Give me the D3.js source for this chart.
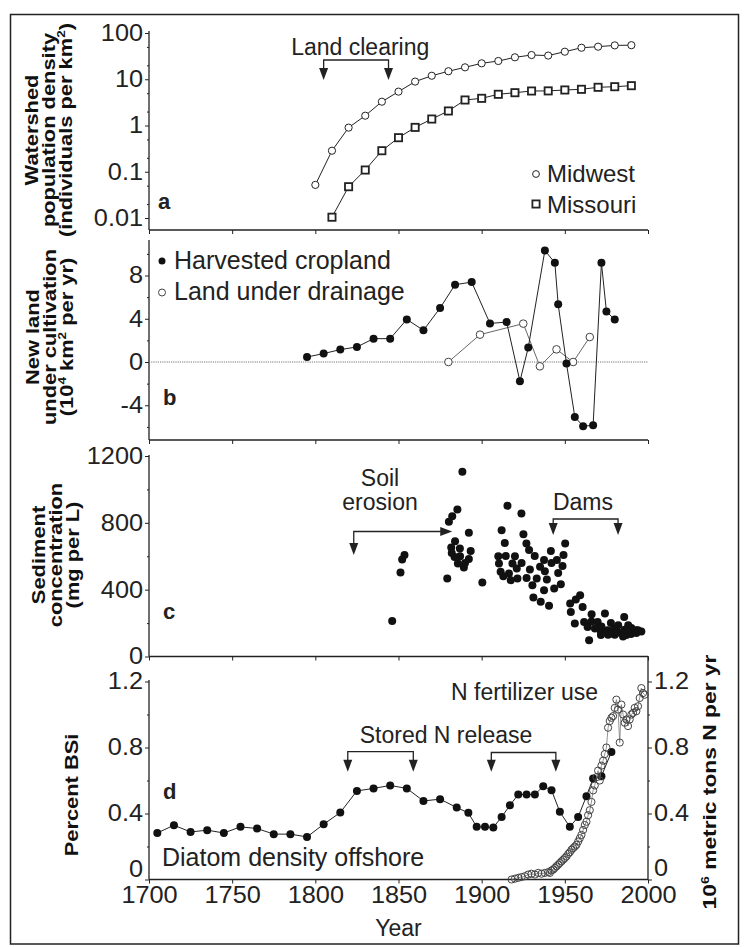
<!DOCTYPE html>
<html><head><meta charset="utf-8">
<script src="https://cdn.jsdelivr.net/npm/d3@7"></script>
<style>
html,body{margin:0;padding:0;background:#fff;}
svg text{font-family:"Liberation Sans",Arial,sans-serif;fill:#222;}
</style></head>
<body>
<svg id="chart" width="745" height="947"></svg>
<script>
// ---------------- DATA ----------------
const xTicks = [1700,1750,1800,1850,1900,1950,2000];

// panel a
const aTicks = [0.01,0.1,1,10,100];
const aTickLabels = ["0.01","0.1","1","10","100"];
const midwestYears = [1800,1810,1820,1830,1840,1850,1860,1870,1880,1890,1900,1910,1920,1930,1940,1950,1960,1970,1980,1990];
const midwestVals  = [0.052,0.285,0.9,1.63,3.27,5.4,8.9,11.9,14.9,18.1,22.1,24.8,29.8,33.4,32.5,39.4,48,50.6,54,54.5];
const missouriYears = [1810,1820,1830,1840,1850,1860,1870,1880,1890,1900,1910,1920,1930,1940,1950,1960,1970,1980,1990];
const missouriVals  = [0.0104,0.0475,0.109,0.285,0.545,0.91,1.38,2.06,3.56,3.87,4.73,5.12,5.57,5.6,5.86,6.06,6.7,6.9,7.26];

// panel b
const bTicks = [-4,0,4,8];
const bMinor = [-6,-2,2,6,10];
const cropYears = [1795,1805,1815,1825,1835,1845,1855,1865,1875,1884,1894,1905,1915,1923,1928,1938,1944,1946,1951,1956,1961,1967,1972,1975,1980];
const cropVals  = [0.46,0.78,1.15,1.39,2.16,2.16,3.94,2.93,4.99,7.15,7.39,3.57,3.69,-1.78,1.33,10.31,9.18,5.33,-0.15,-5.08,-5.94,-5.85,9.18,4.68,3.92];
const drainYears = [1880,1899,1925,1935,1945,1955,1965];
const drainVals  = [0,2.53,3.55,-0.4,1.17,0,2.31];

// panel c
const cTicks = [0,400,800,1200];
const cMinor = [200,600,1000];
const sedYears = [1846.2,1851.2,1852.2,1853.6,1888.4,1885.4,1882.3,1880.3,1892.3,1881.7,1886.9,1893.4,1883.7,1892.3,1885.7,1889.3,1879.3,1900.4,
  1915.5,1923.9,1912,1925.1,1913.9,1926.9,1928.5,1914.5,1931.9,1910.4,1918.5,1921.1,1911.4,1916.4,1921.5,1917.5,
  1941.6,1950.2,1949.2,1937.5,1945.2,1948.6,1935.1,1933.1,1939.2,1930.5,1947.6,1943.6,1937.5,1931.1,1935.5,1940.5,
  1959.2,1956.6,1953.2,1960.7,1953.6,1966.1,1974.1,1956,1961.6,1969.7,1977.7,1985.7,1963.7,1968.1,1971.7,1975.7,1979.7,
  1982.1,1988.1,1992.8,1983.7,1977.7,1964.6,1971.7,1989.8,1987,1994,1985,1980,1991,
  1882,1887,1884,1890,1910,1913,1920,1924,1927,1929,1938,1942,1946,1966,1972,1976,1981,1986,1990,1993,1996];
const sedVals = [213,503,581,607,1105,880,840,806,740,653,647,632,596,583,557,533,467,443,
  902,856,756,732,680,677,637,601,601,557,557,527,507,497,467,457,
  632,677,607,577,577,541,537,467,461,427,433,407,397,353,327,303,
  367,341,317,297,267,253,257,198,207,207,201,237,177,168,147,157,168,
  187,187,157,141,138,98,128,134,128,157,120,130,150,
  620,600,690,560,600,480,600,560,470,520,510,560,500,210,180,130,150,160,170,140,150];

// panel d
const dTicks = [0,0.4,0.8,1.2];
const dTickLabels = ["0","0.4","0.8","1.2"];
const dMinor = [0.2,0.6,1.0];
const bsiYears = [1705,1715,1725,1735,1745,1755,1765,1775,1785,1795,1805,1815,1825,1835,1845,1855,1865,1875,1885,1892,1897,1902,1907,1912,1917,1922,1927,1932,1937,1942,1947,1953,1958,1963,1967,1972,1978];
const bsiVals  = [0.282,0.329,0.288,0.299,0.282,0.319,0.309,0.275,0.275,0.258,0.335,0.406,0.537,0.552,0.570,0.552,0.476,0.487,0.436,0.404,0.319,0.319,0.315,0.379,0.450,0.515,0.515,0.515,0.565,0.541,0.410,0.319,0.379,0.505,0.612,0.626,0.773];
const fertYears = [1918,1920,1922,1924,1926,1928,1930,1932,1934,1936,1938,1940,1941,1942,1943,1944,1945,1946,1947,1948,1949,1950,1951,1952,1953,1954,1955,1956,1957,1958,1959,1960,1961,1962,1963,1964,1965,1966,1967,1968,1969,1970,1971,1972,1973,1974,1975,1976,1977,1978,1979,1980,1981,1982,1983,1984,1985,1986,1987,1988,1989,1990,1991,1992,1993,1994,1995,1996,1997,1998];
const fertVals  = [0.0,0.005,0.01,0.015,0.02,0.03,0.035,0.03,0.04,0.035,0.04,0.045,0.04,0.055,0.06,0.07,0.08,0.09,0.1,0.11,0.12,0.13,0.14,0.155,0.165,0.18,0.19,0.2,0.21,0.23,0.25,0.27,0.3,0.33,0.35,0.39,0.42,0.47,0.54,0.57,0.62,0.66,0.6,0.69,0.72,0.76,0.8,0.92,0.96,0.98,0.99,1.04,1.09,1.03,0.83,1.06,1.0,0.95,0.97,0.93,0.97,1.0,1.01,1.04,1.02,1.05,1.1,1.16,1.13,1.12];

// ---------------- DRAW ----------------
const svg = d3.select("#chart");
const FONT = '"Liberation Sans", Arial, sans-serif';
const INK = "#222";
const TICKFS = 23, TICKSX = 1.1;

svg.append("rect").attr("x",10.5).attr("y",14.5).attr("width",728).attr("height",929.5)
  .attr("fill","none").attr("stroke",INK).attr("stroke-width",1.5);

const x = d3.scaleLinear().domain([1700,2000]).range([149,648]);
const X0 = x(1700), X1 = x(2000);

function styleAxis(g){
  g.attr("font-family",FONT).attr("font-size",TICKFS);
  g.selectAll("line").attr("stroke",INK);
  g.selectAll("text").attr("fill",INK);
  g.select(".domain").remove();
}
function xAxis(yPos, labels){
  const g = svg.append("g").attr("transform",`translate(0,${yPos})`)
    .call(d3.axisBottom(x).tickValues(xTicks).tickSize(4).tickPadding(3)
      .tickFormat(labels ? d3.format("d") : ""));
  styleAxis(g);
  g.selectAll("text").attr("transform",`scale(${TICKSX},1)`);
  svg.append("line").attr("x1",X0).attr("x2",X1).attr("y1",yPos).attr("y2",yPos)
    .attr("stroke",INK).attr("stroke-width",1.3);
}
function yAxis(scale, ticks, labels, minor, top, bottom, xPos, right, zeroLift){
  const ax = (right ? d3.axisRight(scale) : d3.axisLeft(scale)).tickValues(ticks)
    .tickFormat((d,i)=>labels[i]).tickSize(4).tickPadding(2);
  const g = svg.append("g").attr("transform",`translate(${xPos},0)`).call(ax);
  styleAxis(g);
  g.selectAll("text").each(function(d){
    const t = d3.select(this);
    t.attr("x", (right ? 6 : -6)/TICKSX).attr("transform",`scale(${TICKSX},1)`);
    if (zeroLift && d === 0) t.attr("y",-zeroLift);
  });
  if (minor){
    const gm = svg.append("g").attr("transform",`translate(${xPos},0)`)
      .call((right ? d3.axisRight(scale) : d3.axisLeft(scale)).tickValues(minor).tickSize(2).tickFormat(""));
    styleAxis(gm);
  }
  svg.append("line").attr("x1",xPos).attr("x2",xPos).attr("y1",top).attr("y2",bottom)
    .attr("stroke",INK).attr("stroke-width",1.3);
}
function rotTitle(lines, baselines, cy, size, along){
  lines.forEach((ln,i)=>{
    const t = svg.append("text")
      .attr("transform",`translate(${baselines[i]},${cy}) rotate(-90) scale(${along},1)`)
      .attr("text-anchor","middle").attr("font-weight","bold").attr("font-size",size)
      .style("fill","#111");
    ln.forEach(part=>{
      const ts = t.append("tspan").text(part.t);
      if (part.sup) ts.attr("font-size",size*0.62).attr("dy",-size*0.38);
      if (part.after) ts.attr("dy",size*0.38);
    });
  });
}
function label(txt, xx, yy, opts={}){
  const sx = opts.sx || 1;
  return svg.append("text").attr("transform",`translate(${xx},${yy}) scale(${sx},1)`).text(txt)
    .attr("font-size",opts.size||23).attr("text-anchor",opts.anchor||"start")
    .attr("font-weight",opts.weight||"normal");
}
function downArrow(xx, tip){
  svg.append("path").attr("d",`M${xx-4.5},${tip-12}L${xx+4.5},${tip-12}L${xx},${tip}Z`).attr("fill",INK);
}
function bracket(y1, y2, bar, tip){
  const a = x(y1), b = x(y2);
  svg.append("path").attr("d",`M${a},${tip-11}V${bar}H${b}V${tip-11}`)
    .attr("fill","none").attr("stroke",INK).attr("stroke-width",1.3);
  downArrow(a, tip); downArrow(b, tip);
}
const lineGen = (xs, ys, sy) => d3.line().x((d,i)=>x(xs[i])).y((d,i)=>sy(ys[i]))(xs);

// ===== Panel a =====
const ya = d3.scaleLog().domain([0.01,100]).range([218,33]);
const aMinor = [];
[0.01,0.1,1,10].forEach(dec=>[2,5].forEach(m=>aMinor.push(dec*m)));
xAxis(230,false);
yAxis(ya, aTicks, aTickLabels, aMinor, 31, 230, X0, false);
rotTitle([[{t:"Watershed"}],[{t:"population density"}],[{t:"(individuals per km"},{t:"2",sup:true},{t:")",after:true}]],
  [38,55,72], 130, 19, 1.15);
label("a", 158, 209, {weight:"bold", size:22});
label("Land clearing", x(1827), 55, {anchor:"middle"});
bracket(1805, 1844, 60, 80);

svg.append("path").attr("d",lineGen(midwestYears,midwestVals,ya)).attr("fill","none").attr("stroke",INK).attr("stroke-width",1);
svg.append("path").attr("d",lineGen(missouriYears,missouriVals,ya)).attr("fill","none").attr("stroke",INK).attr("stroke-width",1);
svg.selectAll(".mw").data(midwestYears).join("circle")
  .attr("cx",d=>x(d)).attr("cy",(d,i)=>ya(midwestVals[i])).attr("r",3.6)
  .attr("fill","#fff").attr("stroke",INK).attr("stroke-width",1);
svg.selectAll(".mo").data(missouriYears).join("rect")
  .attr("x",d=>x(d)-3.6).attr("y",(d,i)=>ya(missouriVals[i])-3.6).attr("width",7.2).attr("height",7.2)
  .attr("fill","#fff").attr("stroke",INK).attr("stroke-width",1.8);
svg.append("circle").attr("cx",536).attr("cy",174).attr("r",3.4).attr("fill","#fff").attr("stroke",INK).attr("stroke-width",1);
label("Midwest", 547, 182, {size:24});
svg.append("rect").attr("x",532.4).attr("y",200.4).attr("width",7.2).attr("height",7.2).attr("fill","#fff").attr("stroke",INK).attr("stroke-width",1.8);
label("Missouri", 547, 213, {size:24});

// ===== Panel b =====
const yb = d3.scaleLinear().domain([0,8]).range([362,275.5]);
xAxis(440,false);
yAxis(yb, bTicks, bTicks.map(String), bMinor, 240, 440, X0, false);
svg.append("line").attr("x1",X0).attr("x2",X1).attr("y1",yb(0)).attr("y2",yb(0))
  .attr("stroke","#777").attr("stroke-width",1.2).attr("stroke-dasharray","1.2,1");
rotTitle([[{t:"New land"}],[{t:"under cultivation"}],[{t:"(10"},{t:"4",sup:true},{t:" km",after:true},{t:"2",sup:true},{t:" per yr)",after:true}]],
  [39,56,73], 337, 19, 1.15);
label("b", 163, 405, {weight:"bold", size:22});
svg.append("path").attr("d",lineGen(drainYears,drainVals,yb)).attr("fill","none").attr("stroke","#666").attr("stroke-width",1);
svg.append("path").attr("d",lineGen(cropYears,cropVals,yb)).attr("fill","none").attr("stroke",INK).attr("stroke-width",1);
svg.selectAll(".dr").data(drainYears).join("circle")
  .attr("cx",d=>x(d)).attr("cy",(d,i)=>yb(drainVals[i])).attr("r",3.8)
  .attr("fill","#fff").attr("stroke","#444").attr("stroke-width",1);
svg.selectAll(".cr").data(cropYears).join("circle")
  .attr("cx",d=>x(d)).attr("cy",(d,i)=>yb(cropVals[i])).attr("r",4)
  .attr("fill","#111");
svg.append("circle").attr("cx",162).attr("cy",261).attr("r",3.5).attr("fill","#111");
label("Harvested cropland", 174, 269, {size:25});
svg.append("circle").attr("cx",162).attr("cy",292.5).attr("r",3.5).attr("fill","#fff").attr("stroke","#444");
label("Land under drainage", 174, 300, {size:25});

// ===== Panel c =====
const yc = d3.scaleLinear().domain([0,1200]).range([656.5,456]);
xAxis(656.5,false);
yAxis(yc, cTicks, cTicks.map(String), cMinor, 455, 656.5, X0, false);
rotTitle([[{t:"Sediment"}],[{t:"concentration"}],[{t:"(mg per L)"}]], [45,62,79], 555, 19, 1.15);
label("c", 163, 619, {weight:"bold", size:22});
svg.selectAll(".sd").data(sedYears).join("circle")
  .attr("cx",d=>x(d)).attr("cy",(d,i)=>yc(sedVals[i])).attr("r",4).attr("fill","#111");
label("Soil", 380, 486, {anchor:"middle"});
label("erosion", 380, 510, {anchor:"middle"});
{
  const a = x(1823.1), b = x(1882.3), bar = 531.5, tip = 555;
  svg.append("path").attr("d",`M${a},${tip-11}V${bar}H${b-11}`).attr("fill","none").attr("stroke",INK).attr("stroke-width",1.3);
  downArrow(a, tip);
  svg.append("path").attr("d",`M${b-12},${bar-4.5}L${b-12},${bar+4.5}L${b},${bar}Z`).attr("fill",INK);
}
label("Dams", 583, 510, {anchor:"middle"});
bracket(1943, 1982, 519, 535);

// ===== Panel d =====
const yd = d3.scaleLinear().domain([0,1.2]).range([879.5,681.5]);
xAxis(879.5,true);
yAxis(yd, dTicks, dTickLabels, dMinor, 680, 879.5, X0, false, 10);
yAxis(yd, dTicks, dTickLabels, dMinor, 656, 879.5, X1, true, 11);
rotTitle([[{t:"Percent BSi"}]], [78], 795, 19, 1.15);
rotTitle([[{t:"10"},{t:"6",sup:true},{t:" metric tons N per yr",after:true}]], [716], 782, 19, 1.2);
label("d", 163, 799, {weight:"bold", size:22});
label("Year", x(1850), 936, {anchor:"middle"});
label("Diatom density offshore", 162, 866, {size:25});
label("Stored N release", 446, 743, {anchor:"middle"});
bracket(1819.5, 1858.9, 751.7, 771.7);
bracket(1905.8, 1944.6, 752.5, 771.7);
label("N fertilizer use", 451, 700);

svg.append("path").attr("d",lineGen(bsiYears,bsiVals,yd)).attr("fill","none").attr("stroke",INK).attr("stroke-width",1);
svg.selectAll(".bs").data(bsiYears).join("circle")
  .attr("cx",d=>x(d)).attr("cy",(d,i)=>yd(bsiVals[i])).attr("r",4).attr("fill","#111");
svg.append("path").attr("d",lineGen(fertYears,fertVals,yd)).attr("fill","none").attr("stroke","#777").attr("stroke-width",0.8);
svg.selectAll(".fe").data(fertYears).join("circle")
  .attr("cx",d=>x(d)).attr("cy",(d,i)=>yd(fertVals[i])).attr("r",3.6)
  .attr("fill","none").attr("stroke","#444").attr("stroke-width",1);
</script>
</body></html>
